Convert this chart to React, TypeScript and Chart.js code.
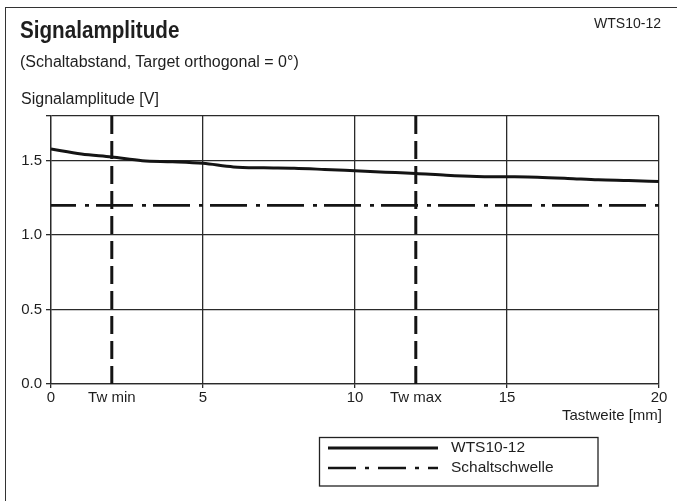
import React, { useEffect, useRef } from "react";
import { Chart, registerables } from "chart.js";

Chart.register(...registerables);

// ---- data ----
const distanceMm = [0, 1, 2, 3, 4, 5, 6, 7, 8, 9, 10, 11, 12, 13, 14, 15, 16, 17, 18, 19, 20];
const amplitudeV = [1.578, 1.545, 1.525, 1.5, 1.493, 1.482, 1.458, 1.452, 1.449, 1.441, 1.432, 1.423, 1.414, 1.402, 1.394, 1.392, 1.389, 1.381, 1.371, 1.366, 1.36];
const thresholdX = [0, 20];
const thresholdV = [1.2, 1.2];
const twMin = 2;
const twMax = 12;
const xTickValues = [0, 2, 5, 10, 12, 15, 20];
const xTickLabels: Record<number, string> = { 0: "0", 2: "Tw min", 5: "5", 10: "10", 12: "Tw max", 15: "15", 20: "20" };
const yTickValues = [0, 0.5, 1.0, 1.5, 1.8];
const seriesLabels = ["WTS10-12", "Schaltschwelle"];

const FONT = "'Liberation Sans', Arial, Helvetica, sans-serif";
const INK = "#1e1e1e";
const GRID = "#2a2a2a";

const legendPlugin = {
  id: "boxLegend",
  afterDraw(chart: any) {
    const ctx = chart.ctx as CanvasRenderingContext2D;
    const left = 319.5, top = 437.5, w = 278.5, h = 48.5;
    ctx.save();
    ctx.strokeStyle = "#222";
    ctx.lineWidth = 1.3;
    ctx.strokeRect(left, top, w, h);
    const rows = [448, 468];
    chart.data.datasets.forEach((ds: any, i: number) => {
      if (i > 1) return;
      const y = rows[i];
      ctx.beginPath();
      ctx.setLineDash(i === 0 ? [] : [28, 9, 4, 9]);
      ctx.lineWidth = ds.borderWidth;
      ctx.strokeStyle = ds.borderColor;
      ctx.moveTo(328, y);
      ctx.lineTo(438, y);
      ctx.stroke();
      ctx.setLineDash([]);
      ctx.fillStyle = INK;
      ctx.font = `15.5px ${FONT}`;
      ctx.textBaseline = "middle";
      ctx.textAlign = "left";
      ctx.fillText(ds.label, 451, y);
    });
    ctx.restore();
  },
};

export default function App() {
  const ref = useRef<HTMLCanvasElement | null>(null);

  useEffect(() => {
    if (!ref.current) return;
    const chart = new Chart(ref.current, {
      type: "line",
      data: {
        datasets: [
          {
            label: seriesLabels[0],
            data: distanceMm.map((x, i) => ({ x, y: amplitudeV[i] })),
            borderColor: "#141414",
            borderWidth: 3,
            pointRadius: 0,
            cubicInterpolationMode: "monotone",
          },
          {
            label: seriesLabels[1],
            data: thresholdX.map((x, i) => ({ x, y: thresholdV[i] })),
            borderColor: "#141414",
            borderWidth: 2.6,
            borderDash: [37, 9, 4, 7],
            borderDashOffset: 12,
            pointRadius: 0,
          },
          {
            label: "Tw min",
            data: [{ x: twMin, y: 1.8 }, { x: twMin, y: -0.04 }],
            borderColor: "#141414",
            borderWidth: 3,
            borderDash: [18, 7],
            pointRadius: 0,
            clip: 10,
          },
          {
            label: "Tw max",
            data: [{ x: twMax, y: 1.8 }, { x: twMax, y: -0.04 }],
            borderColor: "#141414",
            borderWidth: 3,
            borderDash: [18, 7],
            pointRadius: 0,
            clip: 10,
          },
        ] as any,
      },
      options: {
        animation: false,
        responsive: false,
        devicePixelRatio: 1,
        layout: { padding: { left: 6, right: 18, top: 116, bottom: 87 } },
        plugins: { legend: { display: false }, tooltip: { enabled: false }, title: { display: false } },
        scales: {
          x: {
            type: "linear",
            min: 0,
            max: 20,
            afterBuildTicks: (s: any) => {
              s.ticks = xTickValues.map((v) => ({ value: v }));
            },
            afterFit: (s: any) => {
              s.height = 30;
            },
            ticks: {
              autoSkip: false,
              maxRotation: 0,
              padding: 1,
              color: INK,
              font: { family: FONT, size: 15 },
              callback: (v: any) => xTickLabels[v as number] ?? "",
            },
            grid: {
              color: (c: any) => (c.tick && (c.tick.value === twMin || c.tick.value === twMax) ? "rgba(0,0,0,0)" : GRID),
              tickColor: (c: any) => (c.tick && (c.tick.value === twMin || c.tick.value === twMax) ? "rgba(0,0,0,0)" : GRID),
              lineWidth: 1.3,
              tickLength: 4,
            },
            border: { display: true, color: GRID, width: 1.3 },
          },
          y: {
            type: "linear",
            min: 0,
            max: 1.8,
            afterBuildTicks: (s: any) => {
              s.ticks = yTickValues.map((v) => ({ value: v }));
            },
            afterFit: (s: any) => {
              s.width = 45;
            },
            ticks: {
              autoSkip: false,
              padding: 4,
              color: INK,
              font: { family: FONT, size: 15 },
              callback: (v: any) => ((v as number) > 1.7 ? "" : (v as number).toFixed(1)),
            },
            grid: { color: GRID, lineWidth: 1.3, tickLength: 5, tickColor: GRID },
            border: { display: true, color: GRID, width: 1.3 },
          },
        },
      } as any,
      plugins: [legendPlugin],
    });
    return () => chart.destroy();
  }, []);

  const text: React.CSSProperties = { position: "absolute", fontFamily: FONT, color: INK, whiteSpace: "nowrap", lineHeight: 1 };

  return (
    <div style={{ position: "fixed", left: 0, top: 0, width: 677, height: 501, background: "#fff", overflow: "hidden" }}>
      <div style={{ position: "absolute", left: 5, top: 7, width: 720, height: 600, borderLeft: "1.5px solid #333", borderTop: "1.5px solid #333" }} />
      <canvas ref={ref} width={677} height={501} style={{ position: "absolute", left: 0, top: 0, width: 677, height: 501 }} />
      <div style={{ ...text, left: 20, top: 18, fontSize: 24, fontWeight: 700, transform: "scaleX(0.86)", transformOrigin: "left center" }}>Signalamplitude</div>
      <div style={{ ...text, left: 20, top: 54, fontSize: 16 }}>(Schaltabstand, Target orthogonal = 0°)</div>
      <div style={{ ...text, right: 16, top: 16, fontSize: 14 }}>WTS10-12</div>
      <div style={{ ...text, left: 21, top: 91, fontSize: 16 }}>Signalamplitude [V]</div>
      <div style={{ ...text, right: 15, top: 407, fontSize: 15 }}>Tastweite [mm]</div>
    </div>
  );
}
